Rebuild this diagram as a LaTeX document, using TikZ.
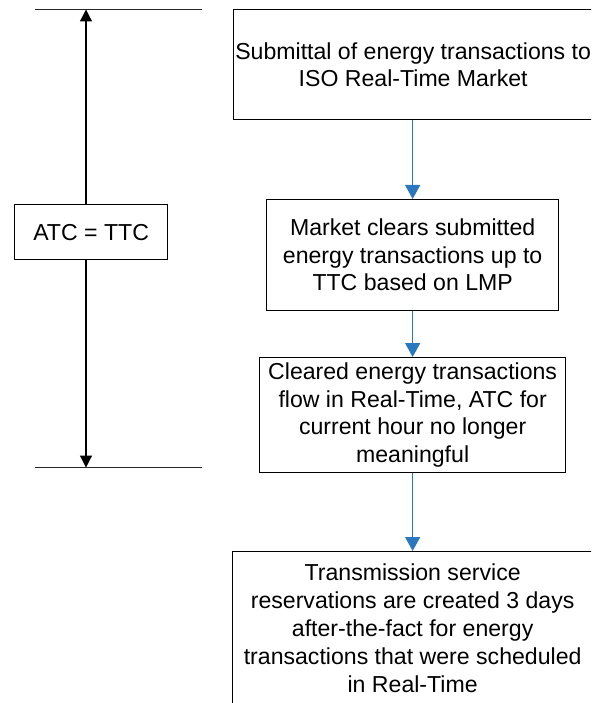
\documentclass[tikz,border=0pt]{standalone}
\usepackage{fontspec}
\setmainfont{Liberation Sans}
\usetikzlibrary{arrows.meta}
\definecolor{flowblue}{HTML}{2A78BE}
\begin{document}
\begin{tikzpicture}[x=1pt,y=-1pt,
  box/.style={draw, line width=1.3pt, fill=white, align=center, inner sep=0pt,
    font=\fontsize{23.1}{27.5}\selectfont, anchor=north west},
  flow/.style={draw=flowblue, line width=1.4pt, -{Triangle[width=15pt,length=14pt]}, flowblue},
  blk/.style={line width=1.3pt, -{Triangle[width=12pt,length=12pt]}},
  rule/.style={line width=1.4pt, draw=black!85}
]
\useasboundingbox (0,0) rectangle (591,703);
\clip (0,0) rectangle (591,703);
% time-span rules
\coordinate (tl) at (35,9.5);
\coordinate (tr) at (202,9.5);
\coordinate (bl) at (35,467.5);
\coordinate (br) at (202,467.5);
\coordinate (ttop) at (86,9.5);
\coordinate (tbot) at (86,467.5);
\draw[rule] (tl) -- (tr);
\draw[rule] (bl) -- (br);
\node[box, minimum width=153, minimum height=55] (atc) at (14,204) {ATC = TTC};
\draw[blk] (atc.north -| ttop) -- (ttop);
\draw[blk] (atc.south -| tbot) -- (tbot);
% flow boxes
\node[box, minimum width=359, minimum height=110] (b1) at (233,9)
  {Submittal of energy transactions to\\ISO Real-Time Market};
\node[box, minimum width=292, minimum height=111] (b2) at (266,199)
  {Market clears submitted\\energy transactions up to\\TTC based on LMP};
\node[box, minimum width=306, minimum height=115] (b3) at (259,357)
  {Cleared energy transactions\\flow in Real-Time, ATC for\\current hour no longer\\meaningful};
\node[box, minimum width=360, minimum height=154, font=\fontsize{23.1}{28}\selectfont] (b4) at (232,551)
  {Transmission service\\reservations are created 3 days\\after-the-fact for energy\\transactions that were scheduled\\in Real-Time};
\draw[flow] (b2.north |- b1.south) -- (b2.north);
\draw[flow] (b2.south) -- (b3.north);
\draw[flow] (b3.south) -- (b3.south |- b4.north);
\end{tikzpicture}
\end{document}
